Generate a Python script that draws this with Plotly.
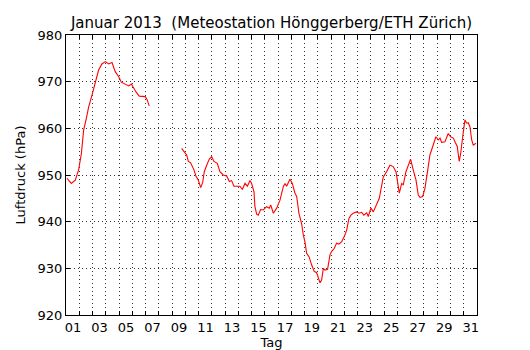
import plotly.graph_objects as go

# Day of month (fractional, 1.0 = 1 Jan 00:00); None marks the data gap
tag = [1.075, 1.40, 1.70, 1.95, 2.16, 2.33, 2.51, 2.71, 2.96, 3.21, 3.46, 3.71, 3.97, 4.22, 4.47, 4.72, 4.97,
       5.17, 5.47, 5.73, 5.93, 6.10, 6.28, 6.53, 6.73, 6.98, 7.11, 7.28,
       None,
       9.72, 9.90, 10.10, 10.23, 10.40, 10.65, 10.80, 10.98, 11.16, 11.31, 11.43, 11.61, 11.81, 11.99,
       12.16, 12.41, 12.61, 12.86, 13.12, 13.32, 13.49, 13.67, 13.87, 14.12, 14.30, 14.50, 14.68,
       14.88, 15.00, 15.18, 15.25, 15.38, 15.50, 15.68, 15.88, 16.13, 16.33, 16.44, 16.64, 16.89,
       17.14, 17.39, 17.52, 17.64, 17.89, 18.07, 18.27, 18.40, 18.57, 18.77, 18.90, 19.02, 19.15,
       19.33, 19.53, 19.73, 19.90, 20.03, 20.16, 20.28, 20.41, 20.53, 20.73, 20.91, 21.03, 21.24,
       21.41, 21.59, 21.79, 21.99, 22.17, 22.34, 22.49, 22.67, 22.92, 23.10, 23.30, 23.47, 23.68,
       23.80, 24.00, 24.18, 24.63, 24.93, 25.18, 25.43, 25.68, 25.89, 26.01, 26.14, 26.32, 26.44,
       26.64, 26.82, 26.99, 27.19, 27.40, 27.57, 27.70, 27.90, 28.07, 28.25, 28.45, 28.58, 28.75,
       28.90, 29.08, 29.21, 29.33, 29.58, 29.83, 30.01, 30.21, 30.34, 30.51, 30.66, 30.77, 30.92,
       31.09, 31.22, 31.34, 31.47, 31.60, 31.72, 31.92]

luftdruck = [949.3, 948.2, 948.9, 951.1, 954.6, 959.6, 961.8, 964.6, 967.1, 969.6, 972.5, 973.8, 974.3,
             973.8, 974.1, 972.1, 971.1, 969.9, 969.4, 969.1, 969.5, 968.6, 967.8, 966.9, 966.8, 966.8,
             966.2, 964.8,
             None,
             955.7, 955.0, 954.3, 952.9, 952.6, 951.1, 949.8, 948.9, 947.3, 948.4, 950.7, 952.1, 953.4,
             953.9, 952.9, 952.5, 950.7, 950.0, 949.8, 948.6, 948.8, 947.6, 947.6, 947.6, 946.9, 948.2,
             947.6, 948.8, 948.2, 946.4, 943.2, 941.6, 941.4, 942.6, 942.5, 943.2, 942.9, 943.6, 941.8,
             942.9, 944.6, 947.5, 948.2, 947.6, 949.1, 948.2, 946.1, 945.4, 941.8, 939.6, 937.1, 935.7,
             933.2, 932.5, 930.7, 929.3, 929.1, 927.9, 926.9, 927.5, 930.0, 929.6, 929.8, 932.9, 933.6,
             934.3, 935.4, 935.2, 935.7, 936.8, 938.2, 940.7, 941.4, 941.8, 942.1, 941.8, 942.0, 941.4,
             941.9, 941.1, 942.9, 942.1, 945.0, 949.6, 950.7, 952.1, 951.8, 950.7, 947.9, 946.1, 948.2,
             947.9, 950.7, 952.1, 953.4, 951.1, 948.9, 945.7, 945.2, 945.4, 947.1, 950.4, 954.3, 955.4,
             957.1, 958.2, 957.5, 957.9, 957.0, 957.1, 958.9, 958.2, 957.9, 957.1, 956.1, 952.9, 954.6,
             958.2, 961.8, 961.1, 961.2, 960.3, 957.5, 956.4, 956.8]

day_ticks = list(range(1, 33))
day_labels = [f"{d:02d}" if d % 2 == 1 and d <= 31 else "" for d in day_ticks]
p_ticks = [920, 930, 940, 950, 960, 970, 980]

FONT = "DejaVu Sans"

fig = go.Figure()
fig.add_trace(go.Scatter(x=tag, y=luftdruck, mode="lines",
                         line=dict(color="#ff0000", width=1.1),
                         connectgaps=False, showlegend=False, hoverinfo="skip"))

fig.update_layout(
    width=530, height=350,
    margin=dict(l=66, r=53, t=35, b=35, autoexpand=False),
    paper_bgcolor="white", plot_bgcolor="white",
    font=dict(family=FONT, size=13, color="black"),
    title=dict(text="Januar 2013  (Meteostation Hönggerberg/ETH Zürich)",
               font=dict(family=FONT, size=15, color="black"),
               x=0.5, xref="paper", xanchor="center",
               y=1 - 22.5 / 350, yref="container", yanchor="middle", automargin=False),
    showlegend=False,
)

fig.update_xaxes(
    range=[1, 32], tickmode="array", tickvals=day_ticks, ticktext=day_labels,
    ticklabelshift=7, automargin=False,
    ticks="inside", ticklen=4, tickcolor="black", tickwidth=1,
    showline=True, linecolor="black", linewidth=1.2, mirror="ticks",
    showgrid=True, gridcolor="#333", griddash="1px,3px", gridwidth=1,
    zeroline=False,
    tickfont=dict(family=FONT, size=13),
    title=dict(text="Tag", font=dict(family=FONT, size=13), standoff=2),
)
fig.update_yaxes(
    range=[920, 980], tickmode="array", tickvals=p_ticks, automargin=False,
    ticks="inside", ticklen=4, tickcolor="black", tickwidth=1,
    showline=True, linecolor="black", linewidth=1.2, mirror="ticks",
    showgrid=True, gridcolor="#333", griddash="1px,3px", gridwidth=1,
    zeroline=False,
    tickfont=dict(family=FONT, size=13),
    title=dict(text="Luftdruck (hPa)", font=dict(family=FONT, size=13), standoff=8),
)

fig.write_html("out.html", config={"displayModeBar": False},
               post_script="document.body.style.margin='0';document.body.style.padding='0';")
